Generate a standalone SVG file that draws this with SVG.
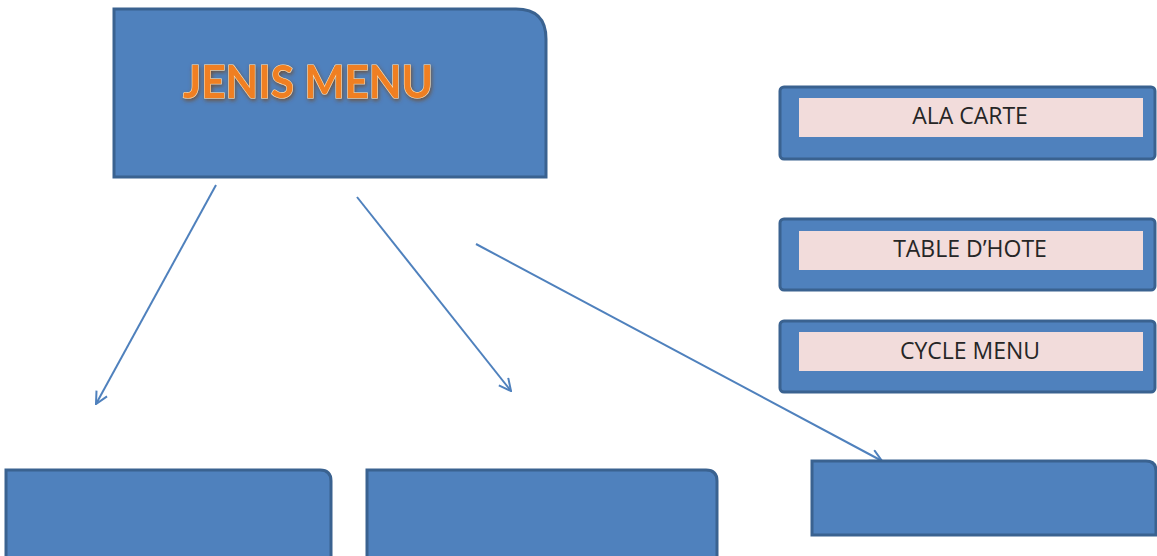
<svg xmlns="http://www.w3.org/2000/svg" width="1157" height="556" viewBox="0 0 1157 556">
<defs>
<style>
.box{fill:#4f81bd;stroke:#3a6290;stroke-width:3}
.inner{fill:#f2dcdb}
.lbl{font-family:"Open Sans","Liberation Sans",sans-serif;font-size:23px;fill:#262626;text-anchor:middle}
.conn{stroke:#4f81bd;stroke-width:2;fill:none;marker-end:url(#arr)}
.title{font-family:Lato,"Open Sans","Liberation Sans",sans-serif;font-weight:bold;font-size:46px;fill:#f07f20;stroke:#fde3b8;stroke-width:1.2;paint-order:stroke}
</style>
<marker id="arr" viewBox="0 0 14 14" refX="13" refY="7" markerWidth="14" markerHeight="14" markerUnits="userSpaceOnUse" orient="auto">
<path d="M1,1 L13,7 L1,13" fill="none" stroke="#4f81bd" stroke-width="2"/>
</marker>
<filter id="glow" x="-10%" y="-30%" width="120%" height="160%">
<feGaussianBlur in="SourceAlpha" stdDeviation="2"/>
<feOffset dx="1" dy="2" result="b"/>
<feFlood flood-color="#7a3a00" flood-opacity="0.7"/>
<feComposite in2="b" operator="in"/>
<feMerge><feMergeNode/><feMergeNode in="SourceGraphic"/></feMerge>
</filter>
</defs>
<rect width="1157" height="556" fill="#ffffff"/>
<g id="connectors">
<line class="conn" x1="216" y1="185" x2="96" y2="404"/>
<line class="conn" x1="357" y1="197" x2="511" y2="391"/>
<line class="conn" x1="476" y1="244" x2="882" y2="461"/>
</g>
<g id="jenis-menu">
<path class="box" d="M114,9 H516 Q546,9 546,39 V177 H114 Z"/>
<text class="title" x="183" y="98" textLength="250" lengthAdjust="spacingAndGlyphs" filter="url(#glow)">JENIS MENU</text>
</g>
<g id="ala-carte">
<rect class="box" x="780" y="87" width="375" height="72" rx="4"/>
<rect class="inner" x="799" y="98" width="344" height="39"/>
<text class="lbl" x="970" y="124">ALA CARTE</text>
</g>
<g id="table-dhote">
<rect class="box" x="780" y="219" width="375" height="71" rx="4"/>
<rect class="inner" x="799" y="231" width="344" height="39"/>
<text class="lbl" x="970" y="257">TABLE D’HOTE</text>
</g>
<g id="cycle-menu">
<rect class="box" x="780" y="321" width="375" height="71" rx="4"/>
<rect class="inner" x="799" y="332" width="344" height="39"/>
<text class="lbl" x="970" y="359">CYCLE MENU</text>
</g>
<g id="box-a">
<path class="box" d="M6,470 H320 Q331,470 331,481 V560 H6 Z"/>
</g>
<g id="box-b">
<path class="box" d="M367,470 H706 Q717,470 717,481 V560 H367 Z"/>
</g>
<g id="box-c">
<path class="box" d="M812,461 H1146 Q1156,461 1156,471 V535 H812 Z"/>
</g>
</svg>
